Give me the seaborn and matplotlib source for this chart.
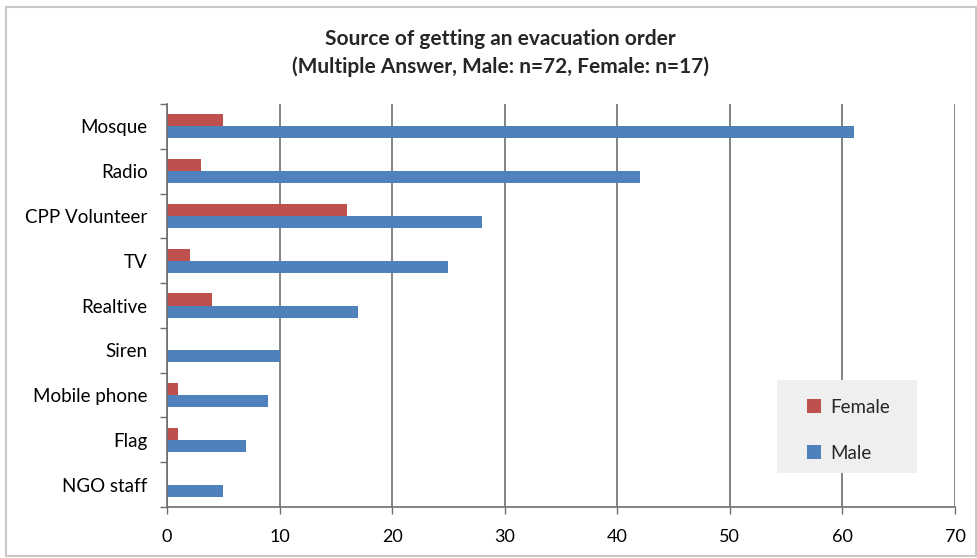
import matplotlib
matplotlib.use("Agg")
import matplotlib.pyplot as plt
import seaborn as sns
import pandas as pd
from matplotlib.patches import Rectangle, Patch
from matplotlib.ticker import MultipleLocator, FixedLocator

# Survey responses per source of an evacuation order
sources = ["Mosque", "Radio", "CPP Volunteer", "TV", "Realtive", "Siren",
           "Mobile phone", "Flag", "NGO staff"]
female = [5, 3, 16, 2, 4, 0, 1, 1, 0]
male = [61, 42, 28, 25, 17, 10, 9, 7, 5]
groups = ["Female", "Male"]
colors = {"Female": "#C0504D", "Male": "#4F81BD"}

df = pd.DataFrame({
    "Source": sources * 2,
    "Count": female + male,
    "Sex": ["Female"] * len(sources) + ["Male"] * len(sources),
})

sns.set_theme(style="white")
plt.rcParams["font.family"] = ["Lato", "DejaVu Sans"]

W, H = 978, 558
fig = plt.figure(figsize=(W / 100, H / 100), dpi=100)
ax = fig.add_axes([0.1708, 0.0914, 0.8057, 0.7222])

sns.barplot(data=df, y="Source", x="Count", hue="Sex", order=sources,
            hue_order=groups, palette=colors, orient="h", width=0.54,
            saturation=1, ax=ax, legend=False, edgecolor="none")

ax.set_xlim(0, 70)
ax.set_ylim(len(sources) - 0.5, -0.5)
ax.xaxis.set_major_locator(MultipleLocator(10))
ax.grid(axis="x", color="#6e6e6e", linewidth=1.2)
ax.grid(axis="y", visible=False)
ax.set_axisbelow(True)
ax.set_xlabel("")
ax.set_ylabel("")

for side in ("top", "right"):
    ax.spines[side].set_visible(False)
for side in ("left", "bottom"):
    ax.spines[side].set_visible(True)
    ax.spines[side].set_color("#6e6e6e")
    ax.spines[side].set_linewidth(1.2)

# category tick marks sit on the boundaries between groups
ax.yaxis.set_minor_locator(FixedLocator([i - 0.5 for i in range(len(sources) + 1)]))
ax.tick_params(axis="y", which="major", length=0, pad=14, labelsize=13.5, colors="black")
ax.tick_params(axis="y", which="minor", length=5, width=1, color="#6e6e6e", left=True)
ax.tick_params(axis="x", which="major", length=5, width=1, color="#6e6e6e", bottom=True,
               pad=11, labelsize=13, colors="black")

fig.text(0.512, 0.930, "Source of getting an evacuation order", ha="center",
         va="center", fontsize=15, fontweight="bold")
fig.text(0.512, 0.881, "(Multiple Answer, Male: n=72, Female: n=17)", ha="center",
         va="center", fontsize=15, fontweight="bold")

# legend panel: light grey box with the two entries inside
fig.patches.append(Rectangle((777 / W, 1 - 473 / H), 140 / W, 93 / H,
                             transform=fig.transFigure, facecolor="#efefef",
                             edgecolor="none", zorder=3))
handles = [Patch(facecolor=colors[g], edgecolor="none") for g in groups]
leg = fig.legend(handles, groups, loc="upper left", bbox_to_anchor=(0.806, 0.319),
                 frameon=False, fontsize=13.5, handlelength=0.75,
                 handleheight=0.75, handletextpad=0.5, labelspacing=1.55,
                 borderpad=1.0, borderaxespad=0)
leg.set_zorder(4)

# thin outer frame of the chart area
fig.patches.append(Rectangle((0.006, 0.004), 0.992, 0.983, transform=fig.transFigure,
                             fill=False, edgecolor="#c8c8c8", linewidth=1.5))

fig.savefig("out.png", dpi=100)
